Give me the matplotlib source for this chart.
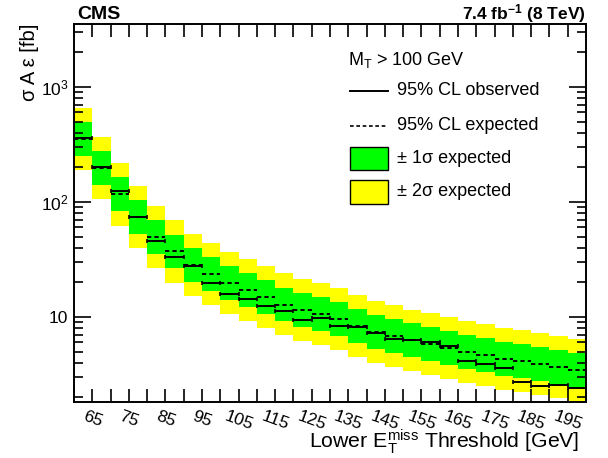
import numpy as np
import matplotlib
matplotlib.use("Agg")
import matplotlib.pyplot as plt
from matplotlib.ticker import LogLocator, NullFormatter

plt.rcParams['font.family'] = ['Liberation Sans', 'DejaVu Sans']
plt.rcParams['mathtext.fontset'] = 'custom'
plt.rcParams['mathtext.rm'] = 'Liberation Sans'
plt.rcParams['mathtext.it'] = 'Liberation Sans:italic'
plt.rcParams['mathtext.bf'] = 'Liberation Sans:bold'

# lower MET threshold bins (GeV), 5 GeV wide
bin_low = np.arange(60, 200, 5)
tick_labels = [str(v) for v in range(65, 200, 10)]

observed = [357, 199.5, 125.2, 73.3, 45.5, 33.2, 27.6, 19.8, 15.9, 14.3,
            12.4, 11.2, 9.42, 9.74, 8.40, 8.23, 7.26, 6.40, 6.31, 6.06,
            5.56, 4.17, 3.89, 3.62, 2.71, 2.50, 2.55, 2.41]
expected = [353, 197.6, 116.2, 74.3, 49.9, 37.1, 28.3, 23.5, 19.6, 17.0,
            14.8, 12.8, 11.5, 10.6, 9.55, 8.30, 7.41, 6.77, 6.25, 5.79,
            5.32, 4.93, 4.65, 4.31, 4.16, 3.89, 3.67, 3.48]
one_sig_lo = [251, 140.6, 82.7, 52.9, 35.5, 26.4, 20.1, 16.7, 13.9, 12.1,
              10.5, 9.14, 8.15, 7.51, 6.80, 5.91, 5.27, 4.82, 4.45, 4.12,
              3.79, 3.51, 3.31, 3.07, 2.96, 2.77, 2.61, 2.48]
one_sig_hi = [496, 277.6, 163.3, 104.4, 70.1, 52.1, 39.8, 33.0, 27.5, 23.9,
              20.8, 18.0, 16.1, 14.8, 13.4, 11.7, 10.4, 9.51, 8.78, 8.13,
              7.47, 6.93, 6.53, 6.06, 5.84, 5.47, 5.16, 4.89]
two_sig_lo = [190, 106.2, 62.4, 39.9, 26.8, 19.9, 15.2, 12.6, 10.5, 9.13,
              7.95, 6.90, 6.16, 5.67, 5.13, 4.46, 3.98, 3.64, 3.36, 3.11,
              2.86, 2.65, 2.50, 2.32, 2.24, 2.09, 1.97, 1.87]
two_sig_hi = [657, 367.7, 216.2, 138.3, 92.9, 69.0, 52.7, 43.7, 36.5, 31.6,
              27.5, 23.9, 21.3, 19.7, 17.8, 15.4, 13.8, 12.6, 11.6, 10.8,
              9.90, 9.17, 8.65, 8.02, 7.74, 7.24, 6.83, 6.48]

width = 5.0
centers = bin_low + width / 2

fig = plt.figure(figsize=(6.08, 4.58), dpi=100)
ax = fig.add_axes([74/608, 1-402/458, 512/608, 378/458])

lo2, hi2 = np.array(two_sig_lo), np.array(two_sig_hi)
lo1, hi1 = np.array(one_sig_lo), np.array(one_sig_hi)
ax.bar(bin_low, hi2 - lo2, bottom=lo2, width=width, align='edge',
       color='#ffff00', linewidth=0)
ax.bar(bin_low, hi1 - lo1, bottom=lo1, width=width, align='edge',
       color='#00ff00', linewidth=0)

dash = (0, (2.2, 1.6))
ax.hlines(expected, bin_low, bin_low + width, colors='black',
          linestyles=[dash], linewidth=1.4)
ax.errorbar(centers, observed, xerr=width/2, fmt='none', ecolor='black',
            elinewidth=1.4, capsize=1.5, capthick=1.2)

ax.set_yscale('log')
ax.set_xlim(60, 200)
ax.set_ylim(1.82, 3530)

# ticks
ax.set_xticks(np.arange(65, 200, 10))
ax.set_xticks(np.arange(60, 201, 5), minor=True)
ax.set_xticklabels(tick_labels, rotation=-20, fontsize=12.5)
ax.set_yticks([10, 100, 1000])
ax.set_yticklabels(["10", "$10^{2}$", "$10^{3}$"], fontsize=12.5)
ax.yaxis.set_minor_locator(LogLocator(base=10, subs=np.arange(2, 10)))
ax.yaxis.set_minor_formatter(NullFormatter())
ax.tick_params(which='both', direction='in', top=True, right=True, width=1.2)
ax.tick_params(axis='x', which='both', length=9.5, pad=5)
ax.tick_params(axis='y', which='major', length=12, pad=4)
ax.tick_params(axis='y', which='minor', length=6.5)
for s in ax.spines.values():
    s.set_linewidth(1.4)

ax.set_ylabel("σ A ε [fb]", fontsize=14.5, loc='top')
ax.yaxis.set_label_coords(-0.068, 1.0)
ax.set_xlabel(r"Lower $\mathrm{E_{T}^{miss}}$ Threshold [GeV]", fontsize=15.3,
              loc='right')
ax.xaxis.set_label_coords(0.988, -0.068)

ax.text(0.006, 1.013, "CMS", transform=ax.transAxes, fontsize=14,
        fontweight='bold', ha='left', va='baseline')
ax.text(1.0, 1.013, r"7.4 fb$^{\mathbf{-1}}$ (8 TeV)", transform=ax.transAxes,
        fontsize=12.5, fontweight='bold', ha='right', va='baseline')

# legend drawn by hand
tx = 0.630
ax.text(0.535, 0.905, r"$\mathrm{M_{T}}$ > 100 GeV", transform=ax.transAxes,
        fontsize=13, va='center', ha='left')
ax.plot([0.539, 0.613], [0.8236, 0.8236], transform=ax.transAxes,
        color='black', lw=1.4)
ax.text(tx, 0.8236, "95% CL observed", transform=ax.transAxes, fontsize=13,
        va='center', ha='left')
ax.plot([0.539, 0.613], [0.731, 0.731], transform=ax.transAxes,
        color='black', lw=1.2, linestyle=dash)
ax.text(tx, 0.731, "95% CL expected", transform=ax.transAxes, fontsize=13,
        va='center', ha='left')
for yc, col, lab in [(0.6447, '#00ff00', "± 1σ expected"),
                     (0.556, '#ffff00', "± 2σ expected")]:
    ax.add_patch(plt.Rectangle((0.539, yc - 0.031), 0.074, 0.062,
                               transform=ax.transAxes, facecolor=col,
                               edgecolor='black', lw=1.0))
    ax.text(tx, yc, lab, transform=ax.transAxes, fontsize=13,
            va='center', ha='left')

fig.savefig("out.png", dpi=100)
